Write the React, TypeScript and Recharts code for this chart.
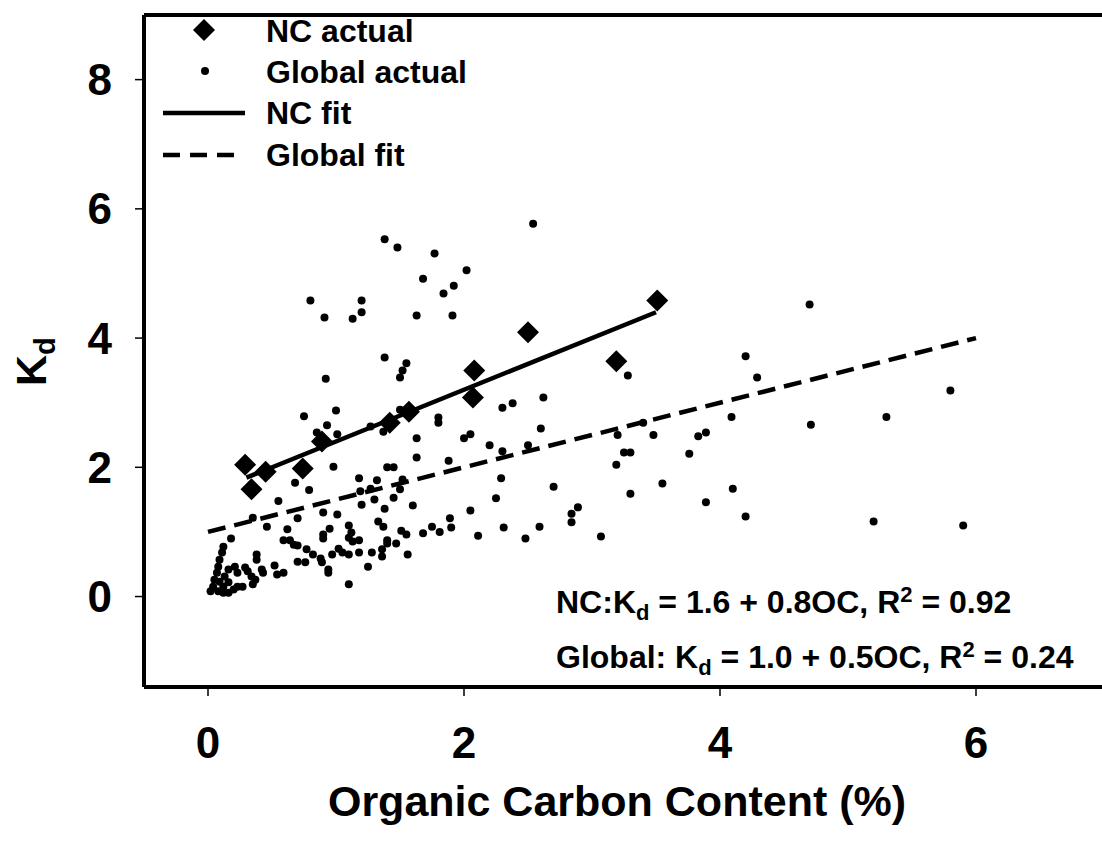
import { ScatterChart, Scatter, XAxis, YAxis, ReferenceLine, Legend } from 'recharts';

const FONT = '"Liberation Sans", Arial, Helvetica, sans-serif';

// NC measurements: [organic carbon %, Kd]
const ncActual: [number, number][] = [
  [0.29, 2.04], [0.34, 1.66], [0.45, 1.93], [0.74, 1.98], [0.89, 2.4], [1.42, 2.69],
  [1.57, 2.86], [2.07, 3.08], [2.08, 3.5], [2.5, 4.09], [3.19, 3.64], [3.51, 4.58],
];

// Global data set: [organic carbon %, Kd]
const globalActual: [number, number][] = [
  [1.38, 5.53], [1.48, 5.4], [1.77, 5.31], [2.02, 5.05], [1.68, 4.92], [1.92, 4.81], [1.84, 4.69],
  [0.8, 4.58], [1.2, 4.58], [1.2, 4.4], [0.91, 4.32], [1.13, 4.3], [1.63, 4.35], [1.91, 4.35],
  [2.54, 5.77], [4.7, 4.52], [1.38, 3.7], [1.55, 3.61], [1.52, 3.5], [1.5, 3.39], [0.92, 3.37],
  [1.0, 2.88], [0.75, 2.79], [0.93, 2.65], [1.8, 2.77], [1.8, 2.69], [1.5, 2.89], [3.28, 3.42],
  [2.62, 3.08], [2.38, 2.99], [2.3, 2.92], [4.2, 3.72], [4.29, 3.39], [5.8, 3.19], [5.3, 2.78],
  [2.6, 2.6], [1.63, 2.45], [2.0, 2.45], [2.05, 2.51], [2.2, 2.34], [2.5, 2.34], [2.3, 2.25],
  [1.63, 2.15], [1.88, 2.1], [1.4, 2.0], [1.45, 2.0], [1.52, 1.81], [1.5, 1.66], [2.29, 1.83],
  [2.7, 1.7], [1.45, 1.53], [2.25, 1.52], [1.38, 1.36], [1.6, 1.41], [2.05, 1.33], [2.84, 1.28],
  [2.84, 1.15], [2.89, 1.38], [1.89, 1.21], [1.9, 1.07], [1.75, 1.08], [1.68, 0.98], [1.81, 1.0],
  [2.31, 1.07], [2.59, 1.08], [1.51, 1.02], [1.55, 0.96], [2.11, 0.94], [2.48, 0.9], [1.37, 1.08],
  [1.4, 0.87], [1.4, 0.82], [1.47, 0.82], [1.56, 0.65], [1.36, 0.73], [1.36, 0.62],
  [4.09, 2.78], [4.71, 2.66], [3.2, 2.5], [3.48, 2.5], [3.4, 2.69], [3.83, 2.48], [3.89, 2.54],
  [3.25, 2.23], [3.3, 2.23], [3.76, 2.21], [3.19, 2.04], [3.55, 1.75], [3.3, 1.59], [4.1, 1.67],
  [3.89, 1.46], [4.2, 1.24], [3.07, 0.93], [5.2, 1.16], [5.9, 1.1],
  [0.85, 2.54], [1.01, 2.51], [1.27, 2.63], [1.37, 2.55], [0.98, 2.01], [1.18, 1.83], [1.32, 1.8],
  [0.68, 1.76], [0.79, 1.65], [1.19, 1.63], [1.27, 1.67], [1.3, 1.5], [0.55, 1.48], [1.2, 1.42],
  [0.9, 1.3], [1.01, 1.27], [0.35, 1.22], [0.7, 1.21], [0.46, 1.08], [0.62, 1.04], [0.95, 1.05],
  [0.9, 0.96], [0.9, 0.9], [1.1, 1.1], [1.12, 0.99], [1.33, 1.16], [0.18, 0.9], [0.59, 0.87],
  [0.64, 0.87], [0.67, 0.8], [0.7, 0.79], [1.1, 0.91], [1.13, 0.85], [1.18, 0.87], [0.77, 0.73],
  [0.82, 0.65], [0.88, 0.59], [0.89, 0.53], [0.97, 0.65], [1.02, 0.74], [1.05, 0.68], [1.1, 0.65],
  [1.18, 0.68], [1.28, 0.68], [0.7, 0.54], [0.76, 0.53], [0.94, 0.42], [0.94, 0.37], [1.25, 0.46],
  [1.1, 0.19], [0.38, 0.65], [0.38, 0.57], [0.42, 0.42], [0.43, 0.37], [0.52, 0.48], [0.59, 0.37],
  [0.54, 0.34], [0.29, 0.45], [0.31, 0.39], [0.34, 0.31], [0.37, 0.26], [0.35, 0.19], [0.21, 0.46],
  [0.23, 0.37], [0.16, 0.42], [0.12, 0.77], [0.11, 0.68], [0.09, 0.57], [0.08, 0.46], [0.07, 0.37],
  [0.05, 0.26], [0.04, 0.15], [0.02, 0.08], [0.08, 0.08], [0.12, 0.06], [0.16, 0.06], [0.2, 0.11],
  [0.23, 0.15], [0.27, 0.15], [0.13, 0.31], [0.16, 0.22], [0.09, 0.23], [0.12, 0.15],
];

// regression lines, end points only
const ncFit: [number, number][] = [[0.3, 1.84], [3.5, 4.4]];
const globalFit: [number, number][] = [[0, 1.0], [6, 4.0]];

const xTicks = [0, 2, 4, 6];
const yTicks = [0, 2, 4, 6, 8];

const toPoints = (rows: [number, number][]) => rows.map(([x, y]) => ({ x, y }));

const Diamond = (p: any) => {
  const { cx, cy } = p;
  const h = 11;
  return <polygon points={`${cx},${cy - h} ${cx + h},${cy} ${cx},${cy + h} ${cx - h},${cy}`} fill="#000" />;
};

const Dot = (p: any) => <circle cx={p.cx} cy={p.cy} r={4} fill="#000" />;

const NoMark = () => <g />;

const textStyle = { fontFamily: FONT, fontWeight: 'bold' as const, fill: '#000' };

function LegendBox() {
  const rows = ['NC actual', 'Global actual', 'NC fit', 'Global fit'];
  const base = [42, 83, 124, 166];
  return (
    <svg width={600} height={190} style={{ display: 'block', overflow: 'visible' }}>
      <polygon points="204,19 215,30 204,41 193,30" fill="#000" />
      <circle cx={205} cy={71} r={4} fill="#000" />
      <line x1={163} x2={245} y1={113} y2={113} stroke="#000" strokeWidth={4.5} />
      <line x1={163} x2={236} y1={155} y2={155} stroke="#000" strokeWidth={4.5} strokeDasharray="17 10" />
      {rows.map((r, i) => (
        <text key={r} x={266} y={base[i]} fontSize={32} {...textStyle}>{r}</text>
      ))}
    </svg>
  );
}

export default function App() {
  return (
    <div style={{ position: 'fixed', left: 0, top: 0, width: 1102, height: 841, overflow: 'hidden', background: '#fff' }}>
      <div style={{ position: 'relative', width: 1110, height: 841 }}>
        <ScatterChart width={1110} height={841} margin={{ top: 15, right: 6, bottom: 94, left: 84 }}>
          <XAxis
            type="number"
            dataKey="x"
            domain={[-0.5, 7]}
            ticks={xTicks}
            height={60}
            tickSize={9}
            tickMargin={31}
            axisLine={{ stroke: '#000', strokeWidth: 4 }}
            tickLine={{ stroke: '#000', strokeWidth: 1.5 }}
            tick={{ fontSize: 44, ...textStyle }}
            label={{
              content: (props: any) => {
                const vb = props.viewBox;
                return (
                  <text x={vb.x + vb.width / 2 - 7} y={vb.y + 129} textAnchor="middle" fontSize={43} {...textStyle}>
                    Organic Carbon Content (%)
                  </text>
                );
              },
            }}
          />
          <YAxis
            type="number"
            dataKey="y"
            domain={[-1.4, 9]}
            ticks={yTicks}
            width={60}
            tickSize={9}
            tickMargin={23}
            axisLine={{ stroke: '#000', strokeWidth: 4 }}
            tickLine={{ stroke: '#000', strokeWidth: 1.5 }}
            tick={{ fontSize: 44, ...textStyle }}
            label={{
              content: () => (
                <text x={46} y={386} transform="rotate(-90, 46, 386)" fontSize={43} {...textStyle}>
                  K<tspan fontSize={29} dy={9}>d</tspan>
                </text>
              ),
            }}
          />
          <ReferenceLine y={9} stroke="#000" strokeWidth={4} ifOverflow="visible" />
          <ReferenceLine x={7} stroke="#000" strokeWidth={4} ifOverflow="visible" />
          <Legend
            layout="vertical"
            align="center"
            verticalAlign="middle"
            wrapperStyle={{ left: 0, top: 0, width: 600, height: 190 }}
            content={() => <LegendBox />}
          />
          <Scatter name="Global actual" data={toPoints(globalActual)} shape={Dot} isAnimationActive={false} />
          <Scatter
            name="Global fit"
            data={toPoints(globalFit)}
            shape={NoMark}
            line={{ stroke: '#000', strokeWidth: 4.5, strokeDasharray: '18 9' }}
            isAnimationActive={false}
          />
          <Scatter
            name="NC fit"
            data={toPoints(ncFit)}
            shape={NoMark}
            line={{ stroke: '#000', strokeWidth: 4.5 }}
            isAnimationActive={false}
          />
          <Scatter name="NC actual" data={toPoints(ncActual)} shape={Diamond} isAnimationActive={false} />
        </ScatterChart>
        <svg width={1110} height={841} style={{ position: 'absolute', left: 0, top: 0, pointerEvents: 'none' }}>
          <text x={556} y={613} fontSize={32} {...textStyle}>
            NC:K<tspan fontSize={22} dy={7}>d</tspan>
            <tspan dy={-7}> = 1.6 + 0.8OC, R</tspan>
            <tspan fontSize={22} dy={-11}>2</tspan>
            <tspan dy={11}> = 0.92</tspan>
          </text>
          <text x={556} y={668} fontSize={32} {...textStyle}>
            Global: K<tspan fontSize={22} dy={7}>d</tspan>
            <tspan dy={-7}> = 1.0 + 0.5OC, R</tspan>
            <tspan fontSize={22} dy={-11}>2</tspan>
            <tspan dy={11}> = 0.24</tspan>
          </text>
        </svg>
      </div>
    </div>
  );
}
